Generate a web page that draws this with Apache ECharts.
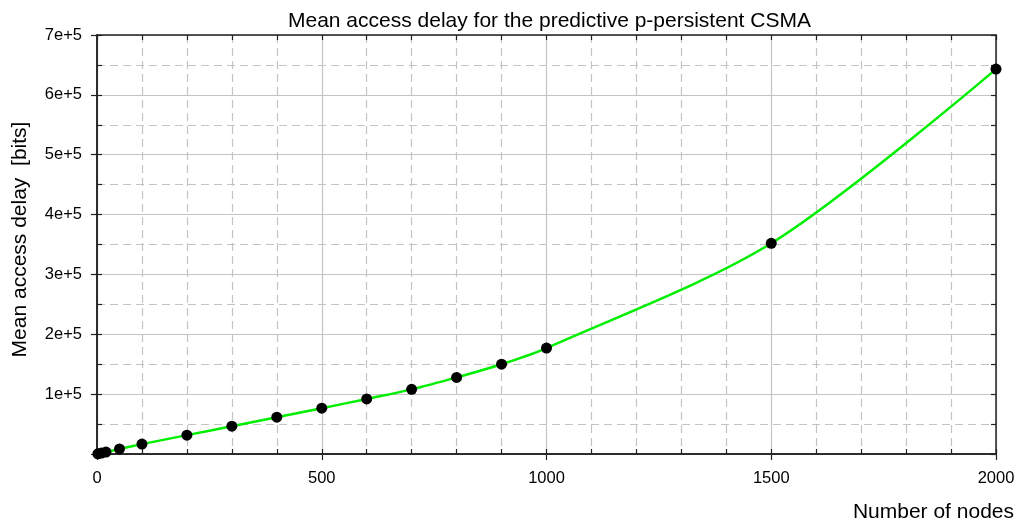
<!DOCTYPE html>
<html>
<head>
<meta charset="utf-8">
<script src="https://cdn.jsdelivr.net/npm/echarts@6/dist/echarts.min.js"></script>
<style>
  html, body { margin: 0; padding: 0; background: #fff; }
  #chart { width: 1024px; height: 527px; }
</style>
</head>
<body>
<div id="chart"></div>
<script>
// number of nodes
const nodes = [2, 10, 20, 50, 100, 200, 300, 400, 500, 600, 700, 800, 900, 1000, 1500, 2000];
// mean access delay [bits]
const delay = [300, 1500, 3200, 8500, 16500, 31500, 46500, 61500, 76500, 92000, 108000, 128000, 150000, 177000, 352000, 643000];

const font = "Liberation Sans, Arial, sans-serif";
const axisColor = "#222";
const gridColor = "#c4c4c4";
const dash = [8, 5];

const chart = echarts.init(document.getElementById("chart"));

// helper for the inward minor-tick axes (top/bottom/left/right box)
function tickAxis(position, max, step) {
  return {
    type: "value",
    position: position,
    min: 0,
    max: max,
    interval: step,
    z: 4,
    axisLine: { show: true, onZero: false, lineStyle: { color: axisColor, width: 1.5 } },
    axisTick: { show: true, inside: true, length: 5, lineStyle: { color: axisColor, width: 1.2 } },
    axisLabel: { show: false },
    splitLine: { show: false },
  };
}

chart.setOption({
  animation: false,
  title: [
    {
      text: "Mean access delay for the predictive p-persistent CSMA",
      left: 283,
      top: 6,
      textStyle: { fontFamily: font, fontSize: 21, fontWeight: "normal", color: "#000" },
    },
    {
      text: "Number of nodes",
      right: 5,
      top: 497,
      textStyle: { fontFamily: font, fontSize: 21, fontWeight: "normal", color: "#000" },
    },
  ],
  grid: { left: 97, right: 28, top: 35, bottom: 73 },
  xAxis: [
    {
      type: "value",
      min: 0,
      max: 2000,
      interval: 500,
      z: 3,
      axisLine: { show: true, onZero: false, lineStyle: { color: axisColor, width: 1.5 } },
      axisTick: { show: true, inside: false, length: 6, lineStyle: { color: axisColor, width: 1.2 } },
      axisLabel: { fontFamily: font, fontSize: 16.5, color: "#000", margin: 16, formatter: (v) => String(v) },
      splitLine: { show: true, lineStyle: { color: gridColor, width: 1.2 } },
      minorTick: { show: false, splitNumber: 5 },
      minorSplitLine: { show: true, lineStyle: { color: gridColor, width: 1.2, type: dash } },
    },
    tickAxis("bottom", 2000, 100),
    tickAxis("top", 2000, 100),
  ],
  yAxis: [
    {
      type: "value",
      min: 0,
      max: 700000,
      interval: 100000,
      z: 3,
      name: "Mean access delay  [bits]",
      nameLocation: "middle",
      nameGap: 66,
      nameTextStyle: { fontFamily: font, fontSize: 21, color: "#000", padding: [0, 0, 0, 10] },
      axisLine: { show: true, onZero: false, lineStyle: { color: axisColor, width: 1.5 } },
      axisTick: { show: true, inside: false, length: 6, lineStyle: { color: axisColor, width: 1.2 } },
      axisLabel: {
        fontFamily: font,
        fontSize: 16.5,
        color: "#000",
        margin: 15,
        formatter: (v) => (v === 0 ? "" : v / 100000 + "e+5"),
      },
      splitLine: { show: true, lineStyle: { color: gridColor, width: 1.2 } },
      minorTick: { show: false, splitNumber: 2 },
      minorSplitLine: { show: true, lineStyle: { color: gridColor, width: 1.2, type: dash } },
    },
    tickAxis("left", 700000, 50000),
    tickAxis("right", 700000, 50000),
  ],
  series: [
    {
      type: "line",
      data: nodes.map((n, i) => [n, delay[i]]),
      smooth: 0.3,
      lineStyle: { color: "#00ee00", width: 2.5 },
      symbol: "circle",
      symbolSize: 11,
      showSymbol: true,
      itemStyle: { color: "#000" },
      z: 5,
    },
  ],
});
</script>
</body>
</html>
